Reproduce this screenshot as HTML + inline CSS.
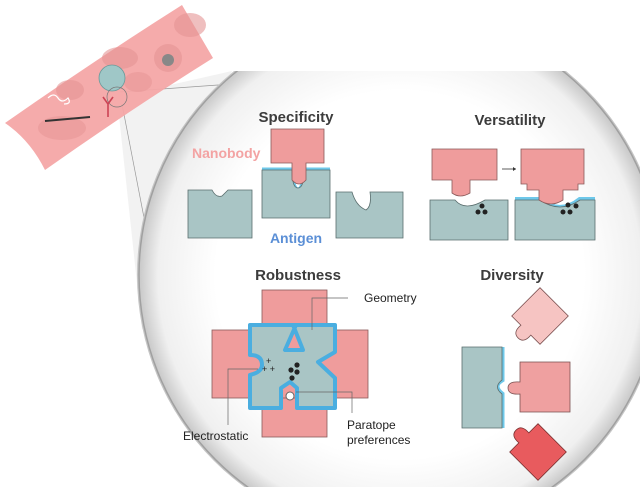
<!DOCTYPE html>
<html><head><meta charset="utf-8"><style>
html,body{margin:0;padding:0;background:#fff;width:640px;height:487px;overflow:hidden}
svg{display:block}
text{font-family:"Liberation Sans",Arial,sans-serif}
.t{font-weight:bold;font-size:15px;fill:#3c3c3c;text-anchor:middle}
.l{font-size:12px;fill:#222}
.pk{fill:#ef9c9c;stroke:#8a5a5a;stroke-width:0.8}
.tl{fill:#a9c5c5;stroke:#5a6e6e;stroke-width:0.8}
</style></head><body>
<svg width="640" height="487" viewBox="0 0 640 487" xmlns="http://www.w3.org/2000/svg">
<defs>
<radialGradient id="cg" cx="400" cy="275" r="263" gradientUnits="userSpaceOnUse">
<stop offset="0.7" stop-color="#ffffff"/><stop offset="0.92" stop-color="#f0f0f0"/><stop offset="1" stop-color="#c4c4c4"/>
</radialGradient>
<clipPath id="cc"><rect x="0" y="71" width="640" height="420"/></clipPath>
</defs>
<polygon points="117,97 232,71 142,330" fill="#ececec" opacity="0.7"/>
<line x1="120" y1="92" x2="232" y2="84" stroke="#999" stroke-width="0.7"/>
<line x1="122" y1="104" x2="146" y2="228" stroke="#999" stroke-width="0.7"/>
<g clip-path="url(#cc)">
<circle cx="400" cy="275" r="263" fill="url(#cg)"/>
<circle cx="400" cy="275" r="261" fill="none" stroke="#a0a0a0" stroke-width="1.5"/>
</g>
<path d="M5,123 Q95,60 182,5 L213,58 Q130,110 45,170 Q30,140 5,123Z" fill="#f4a7a7" opacity="0.95"/>
<ellipse cx="70" cy="90" rx="14" ry="10" fill="#e59494" opacity="0.6"/>
<ellipse cx="120" cy="58" rx="18" ry="11" fill="#e59494" opacity="0.6"/>
<ellipse cx="190" cy="25" rx="16" ry="12" fill="#e59494" opacity="0.6"/>
<ellipse cx="168" cy="58" rx="14" ry="14" fill="#e59494" opacity="0.6"/>
<ellipse cx="138" cy="82" rx="14" ry="10" fill="#e59494" opacity="0.5"/>
<ellipse cx="62" cy="128" rx="24" ry="12" fill="#e59494" opacity="0.5"/>
<circle cx="168" cy="60" r="6" fill="#888"/>
<circle cx="112" cy="78" r="13" fill="#9fc7c7" stroke="#6a9a9a" stroke-width="0.8"/>
<circle cx="117" cy="97" r="10" fill="none" stroke="#777" stroke-width="0.7"/>
<path d="M103,97 L108,104 L108,117 M113,97 L108,104" stroke="#c45" stroke-width="1.6" fill="none"/>
<path d="M48,98 q6,-6 10,0 t10,0 q4,6 -4,6" stroke="#fff" stroke-width="1.2" fill="none"/>
<path d="M45,121 L90,117" stroke="#333" stroke-width="2"/>
<text class="t" x="296" y="122">Specificity</text>
<text class="t" x="510" y="125">Versatility</text>
<text class="t" x="298" y="280">Robustness</text>
<text class="t" x="512" y="280">Diversity</text>
<text x="192" y="158" style="font-size:14px;font-weight:bold;fill:#f3a3a3">Nanobody</text>
<text x="296" y="243" style="font-size:14px;font-weight:bold;fill:#5b8fd6;text-anchor:middle">Antigen</text>
<path class="tl" d="M188,190 H212 q4,8 10,6 q6,-6 6,-6 H252 V238 H188Z"/>
<path class="tl" d="M336,192 H352 q4,14 14,18 q6,-4 4,-18 H403 V238 H336Z"/>
<path d="M262,170 H292 q0,20 6,20 q6,0 6,-20 H330" stroke="#6ec8ea" stroke-width="5" fill="none"/>
<path class="tl" d="M262,170 H292 q0,18 6,18 q6,0 6,-18 H330 V218 H262Z"/>
<path class="pk" d="M271,129 H324 V163 H306 V180 q-7,8 -14,0 V163 H271Z"/>
<path class="pk" d="M432,149 H497 V180 H470 V193 q-10,6 -18,0 V180 H432Z"/>
<path class="tl" d="M430,200 H455 q10,12 30,0 H508 V240 H430Z"/>
<line x1="502" y1="169" x2="516" y2="169" stroke="#333" stroke-width="0.8"/>
<path d="M516,169 l-3,-2 v4z" fill="#333"/>
<path d="M515,200 H540 q20,16 40,0 H595" stroke="#6ec8ea" stroke-width="6" fill="none"/>
<path class="tl" d="M515,200 H540 q20,14 40,0 H595 V240 H515Z"/>
<path class="pk" d="M521,149 H584 V184 H578 V190 H563 V200 q-12,8 -24,0 V190 H527 V184 H521Z"/>
<g fill="#222"><circle cx="478" cy="212" r="2.5"/><circle cx="485" cy="212" r="2.5"/><circle cx="482" cy="206" r="2.5"/><circle cx="563" cy="212" r="2.5"/><circle cx="570" cy="212" r="2.5"/><circle cx="576" cy="206" r="2.5"/><circle cx="568" cy="205" r="2.5"/></g>
<rect class="pk" x="262" y="290" width="65" height="147"/>
<rect class="pk" x="212" y="330" width="156" height="68"/>
<path d="M250,325 H296 L285,350 H303 L293,325 H335 V352 L318,362 L335,378 V408 H297 V388 L290,382 L281,388 V408 H250 V375 Q262,372 262,365 Q262,355 250,355Z" fill="#a9c5c5" stroke="#4aaee0" stroke-width="4" stroke-linejoin="round"/>
<circle cx="290" cy="396" r="4" fill="#fff" stroke="#666"/>
<g fill="#222"><circle cx="297" cy="365" r="2.6"/><circle cx="297" cy="372" r="2.6"/><circle cx="291" cy="370" r="2.6"/><circle cx="292" cy="378" r="2.6"/></g>
<text x="262" y="372" style="font-size:9px;fill:#222">+ +</text>
<text x="266" y="364" style="font-size:9px;fill:#222">+</text>
<path d="M348,298 H312 V330" stroke="#666" stroke-width="0.7" fill="none"/>
<path d="M258,369 H228 V425" stroke="#666" stroke-width="0.7" fill="none"/>
<path d="M296,392 H352 V413" stroke="#666" stroke-width="0.7" fill="none"/>
<text class="l" x="364" y="302">Geometry</text>
<text class="l" x="183" y="440">Electrostatic</text>
<text class="l" x="347" y="429">Paratope</text>
<text class="l" x="347" y="444">preferences</text>
<path d="M502,347 V380 q-10,6 0,14 V428" stroke="#6ec8ea" stroke-width="5" fill="none"/>
<path class="tl" d="M462,347 H502 V380 q-9,7 0,14 V428 H462Z"/>
<path d="M520,362 H570 V412 H520 V394 q-12,1 -12,-6 q0,-7 12,-6Z" fill="#efa0a0" stroke="#7a5050" stroke-width="0.8"/>
<g transform="translate(540,316) rotate(-45)">
<path d="M-20,-20 H20 V20 H-20 V7 q-11,1 -11,-7 q0,-8 11,-7Z" fill="#f6c4c2" stroke="#7a5050" stroke-width="0.8"/>
</g>
<g transform="translate(538,452) rotate(45)">
<path d="M-20,-20 H20 V20 H-20 V7 q-11,1 -11,-7 q0,-8 11,-7Z" fill="#e85b5e" stroke="#7a3030" stroke-width="0.8"/>
</g>
</svg>
</body></html>
